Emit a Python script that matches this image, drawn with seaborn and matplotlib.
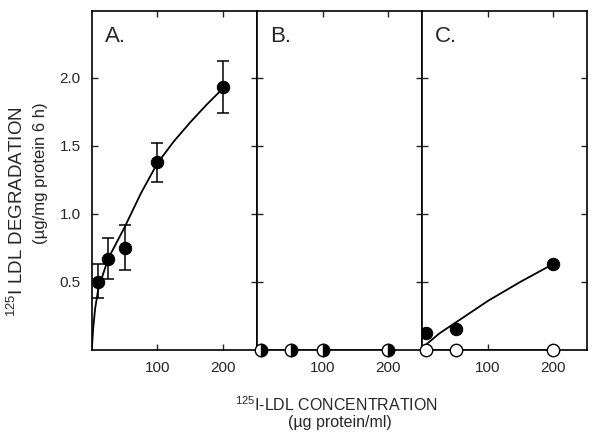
import matplotlib
matplotlib.use("Agg")
import matplotlib.pyplot as plt
import seaborn as sns
import pandas as pd

# --- DATA ---
# Panel A: mean with error bars
a_conc = [10, 25, 50, 100, 200]
a_deg = [0.50, 0.67, 0.75, 1.38, 1.93]
a_err_lo = [0.12, 0.15, 0.16, 0.15, 0.19]
a_err_hi = [0.13, 0.15, 0.17, 0.14, 0.19]
a_curve_x = [0, 2, 5, 10, 25, 50, 75, 100, 125, 150, 175, 200]
a_curve_y = [0, 0.15, 0.30, 0.45, 0.67, 0.90, 1.15, 1.37, 1.53, 1.67, 1.80, 1.92]

# Panel B: half-filled markers, all at zero
b_conc = [5, 50, 100, 200]
b_deg = [0, 0, 0, 0]

# Panel C: filled and open circles
c_conc = [5, 50, 200]
c_filled = [0.12, 0.155, 0.63]
c_open = [0, 0, 0]
c_curve_x = [0, 25, 50, 75, 100, 150, 200]
c_curve_y = [0.02, 0.12, 0.20, 0.28, 0.36, 0.50, 0.63]

panel_labels = ["A.", "B.", "C."]
y_ticks = [0.5, 1.0, 1.5, 2.0]
y_ticklabels = ["0.5", "1.0", "1.5", "2.0"]
x_ticks = [100, 200]

sns.set_theme(style="ticks")
plt.rcParams["font.family"] = ["Liberation Sans", "DejaVu Sans"]
plt.rcParams["mathtext.fontset"] = "custom"
plt.rcParams["mathtext.rm"] = "Liberation Sans"
plt.rcParams["axes.linewidth"] = 1.2

fig, axes = plt.subplots(1, 3, figsize=(6, 4.4), dpi=100, sharey=True)
fig.subplots_adjust(left=0.153, right=0.978, bottom=0.205, top=0.975, wspace=0)

ax_a, ax_b, ax_c = axes

# Panel A
sns.lineplot(data=pd.DataFrame({"x": a_curve_x, "y": a_curve_y}), x="x", y="y",
             ax=ax_a, color="black", lw=1.3, sort=False, estimator=None)
ax_a.errorbar(a_conc, a_deg, yerr=[a_err_lo, a_err_hi], fmt="none",
              ecolor="black", elinewidth=1.1, capsize=4, capthick=1.1)
sns.scatterplot(x=a_conc, y=a_deg, ax=ax_a, color="black", s=80,
                edgecolor="black", zorder=5)

# Panel B
ax_b.plot([0, 200], [0, 0], color="black", lw=1.8)
ax_b.plot(b_conc, b_deg, "o", ms=9, fillstyle="right", markerfacecolor="black",
          markerfacecoloralt="white", markeredgecolor="black", lw=0,
          clip_on=False, zorder=5)

# Panel C
sns.lineplot(data=pd.DataFrame({"x": c_curve_x, "y": c_curve_y}), x="x", y="y",
             ax=ax_c, color="black", lw=1.3, sort=False, estimator=None)
ax_c.plot([0, 200], [0, 0], color="black", lw=1.8)
sns.scatterplot(x=c_conc, y=c_filled, ax=ax_c, color="black", s=80,
                edgecolor="black", zorder=5)
sns.scatterplot(x=c_conc, y=c_open, ax=ax_c, color="white", s=80,
                edgecolor="black", linewidth=1.0, zorder=6, clip_on=False)

for i, ax in enumerate(axes):
    ax.set_xlim(-2, 252)
    ax.set_ylim(0, 2.49)
    ax.set_xticks(x_ticks)
    ax.set_xticklabels([str(t) for t in x_ticks], fontsize=11)
    ax.set_yticks(y_ticks)
    ax.tick_params(direction="in", top=True, right=True, left=True, bottom=True,
                   length=4, width=1.0, pad=8)
    ax.set_xlabel("")
    ax.set_ylabel("")
    for sp in ax.spines.values():
        sp.set_color("black")
    ax.text(0.08, 0.955, panel_labels[i], transform=ax.transAxes,
            fontsize=16, va="top", ha="left")

ax_a.set_xlim(0, 252)
ax_a.set_yticklabels(y_ticklabels, fontsize=11)

fig.text(0.027, 0.52, r"$^{125}$I LDL DEGRADATION", rotation=90,
         ha="center", va="center", fontsize=13.5)
fig.text(0.068, 0.607, r"(µg/mg protein 6 h)", rotation=90,
         ha="center", va="center", fontsize=12)
fig.text(0.56, 0.08, r"$^{125}$I-LDL CONCENTRATION", ha="center",
         va="center", fontsize=11.5)
fig.text(0.567, 0.04, "(µg protein/ml)", ha="center", va="center",
         fontsize=11.5)

fig.savefig("out.png", dpi=100)
